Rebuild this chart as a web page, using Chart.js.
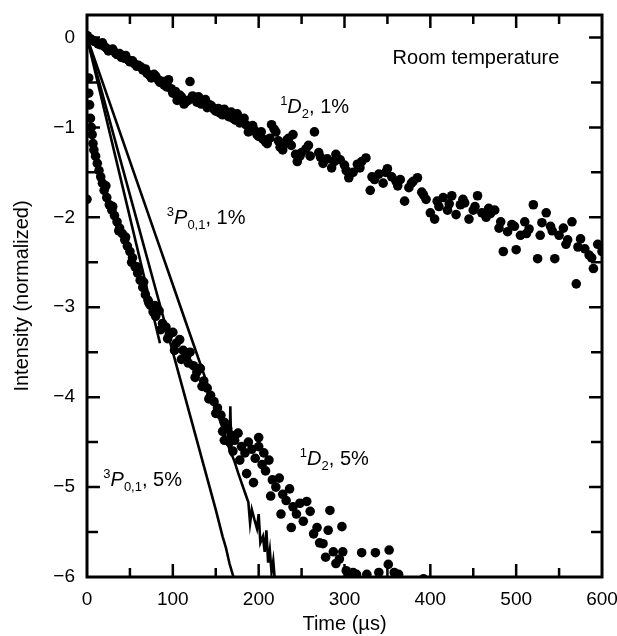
<!DOCTYPE html>
<html>
<head>
<meta charset="utf-8">
<script src="https://cdn.jsdelivr.net/npm/chart.js@4.4.1/dist/chart.umd.min.js"></script>
<style>
  html, body { margin: 0; padding: 0; background: #fff; }
  canvas { display: block; }
</style>
</head>
<body>
<canvas id="myChart" width="617" height="636"></canvas>
<script>
// 1D2, 1% (dots)
const d2LowT = [0,5,10,15,20,25,30,35,40,45,50,55,60,65,70,75,80,85,90,95,
  100,105,110,115,120,125,130,135,140,145,150,155,160,165,170,175,180,185,190,195,
  200,205,210,215,220,225,230,235,240,245,250,255,260,265,270,275,280,285,290,295,
  300,305,310,315,320,325,330,335,340,345,350,355,360,365,370,375,380,385,390,395,
  400,405,410,415,420,425,430,435,440,445,450,455,460,465,470,475,480,485,490,495,
  500,505,510,515,520,525,530,535,540,545,550,555,560,565,570,575,580,585,590,595,600,
  3,8,13,18,23,28,33,38,43,48,53,58,63,68,73,78,83,88,93,98,
  103,108,113,118,123,128,133,138,143,148,153,158,163,168,173,178,183,188,193,198,
  203,208,213,218,223,228,233,238,243,248,
  258,272,288,302,318,332,348,362,378,392,408,422,438,452,468,482,498,512,528,542,558,572,588];
const d2LowV = [0.02,-0.02,-0.05,-0.08,-0.10,-0.15,-0.13,-0.19,-0.22,-0.20,-0.27,-0.29,-0.31,-0.36,-0.40,-0.45,-0.43,-0.50,-0.53,-0.47,
  -0.62,-0.70,-0.66,-0.72,-0.49,-0.68,-0.66,-0.71,-0.78,-0.76,-0.82,-0.84,-0.80,-0.88,-0.90,-0.85,-0.92,-0.97,-1.00,-1.03,
  -1.10,-1.13,-1.18,-0.97,-1.05,-1.22,-1.18,-1.12,-1.08,-1.38,-1.28,-1.24,-1.32,-1.05,-1.28,-1.40,-1.35,-1.45,-1.30,-1.36,
  -1.42,-1.56,-1.50,-1.41,-1.38,-1.34,-1.70,-1.58,-1.52,-1.62,-1.46,-1.55,-1.60,-1.58,-1.82,-1.67,-1.60,-1.56,-1.72,-1.80,
  -1.95,-2.02,-1.88,-1.78,-1.92,-1.76,-1.97,-1.86,-1.84,-2.02,-1.92,-1.76,-1.95,-2.00,-1.96,-1.92,-2.12,-2.38,-2.16,-2.08,
  -2.36,-2.20,-2.05,-2.13,-1.86,-2.46,-2.06,-1.95,-2.10,-2.46,-2.20,-2.12,-2.25,-2.05,-2.74,-2.24,-2.35,-2.42,-2.57,-2.30,-2.38,
  -0.01,-0.04,-0.07,-0.06,-0.12,-0.14,-0.17,-0.18,-0.23,-0.25,-0.26,-0.32,-0.33,-0.35,-0.42,-0.41,-0.47,-0.49,-0.55,-0.57,
  -0.60,-0.64,-0.74,-0.70,-0.65,-0.72,-0.74,-0.69,-0.75,-0.80,-0.79,-0.86,-0.85,-0.83,-0.92,-0.95,-0.90,-1.05,-0.98,-1.08,
  -1.05,-1.16,-1.12,-1.02,-1.15,-1.25,-1.14,-1.20,-1.30,-1.32,
  -1.20,-1.33,-1.38,-1.48,-1.45,-1.55,-1.50,-1.65,-1.62,-1.75,-1.82,-1.85,-1.80,-1.88,-1.90,-2.05,-2.10,-2.18,-2.20,-2.15,-2.30,-2.33,-2.45];

// 1D2, 5% (dots)
const d2HighT = [0,0,2,2,3,4,5,6,7,8,10,12,14,16,18,20,23,26,29,32,35,38,41,44,47,50,53,56,59,62,
  65,68,71,74,77,80,84,88,92,96,100,104,108,112,116,120,124,128,132,136,140,144,148,152,156,160,164,168,172,176,
  180,184,188,192,196,200,204,208,212,216,220,224,228,232,236,240,244,248,252,256,260,264,268,271,275,278,281,283,287,290,
  294,297,298,302,306,310,314,320,326,336,340,351,352,358,363,392,
  160,170,178,186,194,200,206,214,226,238,
  22,30,37,45,52,58,66,72,79,86,94,102,110,118,126,134,142,150,158,166];
const d2HighV = [0.02,-1.80,-0.45,-0.62,-0.75,-0.90,-1.00,-1.08,-1.18,-1.25,-1.32,-1.40,-1.48,-1.55,-1.62,-1.70,-1.78,-1.86,-1.92,-1.98,-2.05,-2.12,-2.18,-2.25,-2.32,-2.38,-2.45,-2.55,-2.62,-2.70,
  -2.78,-2.86,-2.92,-2.98,-3.05,-3.10,-3.04,-3.18,-3.22,-3.30,-3.28,-3.40,-3.36,-3.48,-3.55,-3.50,-3.65,-3.72,-3.68,-3.82,-3.90,-3.98,-4.05,-4.12,-4.20,-4.28,-4.35,-4.42,-4.48,-4.40,
  -4.55,-4.62,-4.50,-4.58,-4.68,-4.55,-4.75,-4.82,-4.70,-4.92,-5.00,-4.90,-5.08,-5.15,-5.02,-5.22,-5.30,-5.18,-5.38,-5.16,-5.27,-5.52,-5.45,-5.62,-5.63,-5.78,-5.48,-5.26,-5.72,-5.85,
  -5.80,-5.44,-5.72,-5.93,-5.97,-5.95,-5.97,-5.73,-5.97,-5.73,-5.95,-5.86,-5.70,-5.95,-5.97,-6.02,
  -4.48,-4.60,-4.70,-4.85,-4.95,-4.45,-4.62,-5.10,-5.30,-5.45,
  -1.65,-1.88,-2.15,-2.22,-2.50,-2.55,-2.72,-2.95,-2.98,-3.25,-3.35,-3.48,-3.58,-3.62,-3.78,-3.88,-4.02,-4.18,-4.38,-4.50];

// 3P0,1, 1% (trace)
const p1LowT = [0,20,40,60,80,100,120,140,150,155,160,164,166,167,168,172,176,180,184,188,190,192,195,198,200,202,205,207,209,211,213,215,217,219];
const p1LowV = [0,-0.55,-1.10,-1.65,-2.20,-2.75,-3.30,-3.85,-4.12,-4.26,-4.40,-4.52,-4.58,-4.10,-4.62,-4.72,-4.84,-4.95,-5.06,-5.17,-5.40,-5.25,-5.36,-5.46,-5.30,-5.62,-5.55,-5.72,-5.48,-5.84,-5.70,-5.95,-5.82,-6.05];

// 3P0,1, 5% (trace)
const p1HighT = [0,20,40,60,80,100,120,140,150,158,162,166,170,172];
const p1HighV = [0,-0.70,-1.40,-2.10,-2.80,-3.50,-4.20,-4.90,-5.25,-5.55,-5.68,-5.85,-5.98,-6.05];

// short fit line near the 5% data
const fitT = [0,40,85];
const fitV = [0,-1.60,-3.40];

const xTicks = [0,100,200,300,400,500,600];
const yTicks = [0,-1,-2,-3,-4,-5,-6];

const labels = [
  { t: 225, v: -0.84, parts: [['1','sup'],['D','it'],['2','sub'],[', 1%','']] },
  { t: 93, v: -2.07, parts: [['3','sup'],['P','it'],['0,1','sub'],[', 1%','']] },
  { t: 19, v: -4.99, parts: [['3','sup'],['P','it'],['0,1','sub'],[', 5%','']] },
  { t: 248, v: -4.76, parts: [['1','sup'],['D','it'],['2','sub'],[', 5%','']] },
  { t: 356, v: -0.29, parts: [['Room temperature','']] }
];

const FONT = '"Liberation Sans", Arial, Helvetica, sans-serif';

function pts(t, v) {
  return t.map((x, i) => ({ x: x, y: v[i] }));
}

const frameAndTicks = {
  id: 'frameAndTicks',
  afterDraw(chart) {
    const ctx = chart.ctx;
    const a = chart.chartArea;
    const xs = chart.scales.x, ys = chart.scales.y;
    ctx.save();
    ctx.strokeStyle = '#000';
    ctx.lineWidth = 2.5;
    xs.ticks.forEach(tk => {
      const v = tk.value;
      if (v % 50 !== 0 || v <= 0 || v >= 600) return;
      const len = v % 100 === 0 ? 13 : 9;
      const px = xs.getPixelForValue(v);
      ctx.beginPath();
      ctx.moveTo(px, a.bottom); ctx.lineTo(px, a.bottom - len);
      ctx.moveTo(px, a.top); ctx.lineTo(px, a.top + len);
      ctx.stroke();
    });
    ys.ticks.forEach(tk => {
      const v = tk.value;
      if (Math.abs(v * 2 - Math.round(v * 2)) > 1e-6 || v <= -6 || v > 0) return;
      const len = Number.isInteger(v) ? 13 : 11;
      const py = ys.getPixelForValue(v);
      ctx.beginPath();
      ctx.moveTo(a.left, py); ctx.lineTo(a.left + len, py);
      ctx.moveTo(a.right, py); ctx.lineTo(a.right - len, py);
      ctx.stroke();
    });
    ctx.lineWidth = 3;
    ctx.strokeRect(a.left, a.top, a.right - a.left, a.bottom - a.top);

    // curve labels
    ctx.fillStyle = '#000';
    ctx.textBaseline = 'alphabetic';
    labels.forEach(lb => {
      let x = xs.getPixelForValue(lb.t);
      const y = ys.getPixelForValue(lb.v);
      lb.parts.forEach(([txt, kind]) => {
        let dy = 0;
        if (kind === 'sup') { ctx.font = '13px ' + FONT; dy = -8; }
        else if (kind === 'sub') { ctx.font = '13px ' + FONT; dy = 5; }
        else if (kind === 'it') { ctx.font = 'italic 20px ' + FONT; }
        else { ctx.font = '20px ' + FONT; }
        ctx.fillText(txt, x, y + dy);
        x += ctx.measureText(txt).width;
      });
    });
    ctx.restore();
  }
};

const dotStyle = { showLine: false, pointRadius: 4.8, pointBackgroundColor: '#000', pointBorderWidth: 0, borderColor: '#000' };
const lineStyle = { showLine: true, pointRadius: 0, borderColor: '#000', borderWidth: 2.6, tension: 0 };

const ctx = document.getElementById('myChart').getContext('2d');
const myChart = new Chart(ctx, {
  type: 'scatter',
  data: {
    datasets: [
      Object.assign({ label: '1D2, 1%', data: pts(d2LowT, d2LowV) }, dotStyle),
      Object.assign({ label: '1D2, 5%', data: pts(d2HighT, d2HighV) }, dotStyle),
      Object.assign({ label: '3P0,1, 1%', data: pts(p1LowT, p1LowV) }, lineStyle),
      Object.assign({ label: '3P0,1, 5%', data: pts(p1HighT, p1HighV) }, lineStyle),
      Object.assign({ label: 'fit', data: pts(fitT, fitV) }, lineStyle)
    ]
  },
  options: {
    responsive: false,
    animation: false,
    layout: { padding: { top: 15, right: 15, left: 0, bottom: 0 } },
    plugins: { legend: { display: false }, tooltip: { enabled: false } },
    scales: {
      x: {
        type: 'linear',
        min: 0, max: 600,
        grid: { display: false, drawTicks: false },
        border: { display: false },
        afterFit: s => { s.height = 59; s.paddingLeft = 0; s.paddingRight = 0; },
        ticks: {
          stepSize: 50, autoSkip: false, maxRotation: 0, padding: 11,
          color: '#000', font: { family: FONT, size: 19 },
          callback: v => xTicks.includes(v) ? String(v) : ''
        },
        title: { display: true, text: 'Time (\u00b5s)', color: '#000', font: { family: FONT, size: 20 }, padding: { top: 0, bottom: 0 } }
      },
      y: {
        type: 'linear',
        min: -6, max: 0.25,
        grid: { display: false, drawTicks: false },
        border: { display: false },
        afterFit: s => { s.width = 87; s.paddingTop = 0; s.paddingBottom = 0; },
        ticks: {
          stepSize: 0.5, autoSkip: false, padding: 12,
          color: '#000', font: { family: FONT, size: 19 },
          callback: v => yTicks.includes(v) ? (v < 0 ? '\u2212' + Math.abs(v) : String(v)) : ''
        },
        title: { display: true, text: 'Intensity (normalized)', color: '#000', font: { family: FONT, size: 20 }, padding: { top: 10, bottom: 0 } }
      }
    }
  },
  plugins: [frameAndTicks]
});
</script>
</body>
</html>
